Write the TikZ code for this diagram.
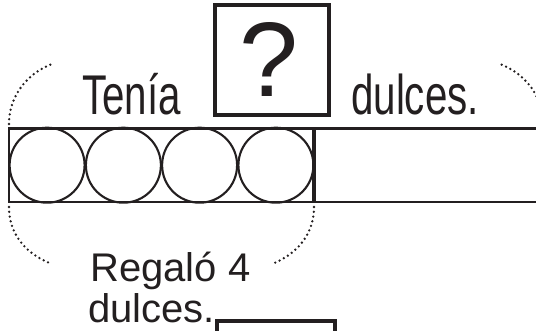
\documentclass[tikz,border=0pt]{standalone}
\usepackage{fontspec}
\setmainfont{Liberation Sans}
\definecolor{ink}{HTML}{231F20}
\begin{document}
\begin{tikzpicture}[x=1pt,y=-1pt,every node/.style={text=ink},
  dotarc/.style={draw=ink,line width=2.6pt,line cap=round,dash pattern=on 0pt off 4.8pt},
  thinline/.style={draw=ink,line width=2.8pt},
  circ/.style={circle,draw=ink,line width=2.1pt,minimum size=75pt,inner sep=0pt},
  bigtxt/.style={inner sep=0pt,font=\fontsize{56}{60}\selectfont},
  midtxt/.style={inner sep=0pt,font=\fontsize{40}{44}\selectfont},
  qboxstyle/.style={draw=ink,line width=4pt,minimum width=114pt,minimum height=110pt,inner sep=0pt}]
\useasboundingbox (0,0) rectangle (536,331);
% question box
\node[qboxstyle] (qbox) at (271.5,60.5) {};
\node[inner sep=0pt,anchor=base,font=\fontsize{106}{110}\selectfont] (qmark) at (269,97) {?};
% texts
\node[bigtxt,anchor=base west] (tenia) at (82,115) {\scalebox{0.72}[1]{Tenía}};
\node[bigtxt,anchor=base west] (dulces) at (351,115) {\scalebox{0.72}[1]{dulces.}};
\node[midtxt,anchor=base west] (regalo) at (90,282) {Regaló 4};
\node[midtxt,anchor=base west] (dulces2) at (88,323) {dulces.};
% strip
\coordinate (tl) at (9,128.5);
\coordinate (bl) at (9,202);
\coordinate (tr) at (540,128.5);
\coordinate (br) at (540,202);
\coordinate (mt) at (314,128.5);
\coordinate (mb) at (314,202);
\draw[thinline] (tr) -- (tl) -- (bl) -- (br);
\draw[draw=ink,line width=4.4pt] (mt) -- (mb);
% circles
\node[circ] (c1) at (47.1,165.2) {};
\node[circ] (c2) at (123.4,165.2) {};
\node[circ] (c3) at (199.6,165.2) {};
\node[circ] (c4) at (275.9,165.2) {};
% dotted arcs
\draw[dotarc] (9,124) .. controls (9,95) and (28,73) .. (52,64);
\draw[dotarc] (543,124) .. controls (543,95) and (524,73) .. (500,64);
\draw[dotarc] (9,207) .. controls (9,236) and (28,255) .. (52,264);
\draw[dotarc] (314,207) .. controls (314,236) and (295,255) .. (272,264);
% bottom box
\draw[draw=ink,line width=4pt] (217,340) -- (217,321.5) -- (335,321.5) -- (335,340);
\end{tikzpicture}
\end{document}
